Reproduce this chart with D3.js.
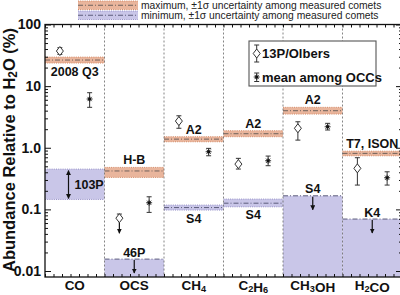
<!DOCTYPE html>
<html>
<head>
<meta charset="utf-8">
<script src="https://cdn.jsdelivr.net/npm/d3@7"></script>
<style>
body { margin: 0; background: #fff; }
svg { display: block; font-family: "Liberation Sans", Arial, sans-serif; }
</style>
</head>
<body>
<svg width="400" height="295"></svg>
<script>
// molecules, one column each
var species = ["CO", "OCS", "CH4", "C2H6", "CH3OH", "H2CO"];

// maximum abundance among measured comets (+-1 sigma)
var maxMid   = [26.5, 0.42, 1.38, 1.69, 3.99, 0.81];
var maxLow   = [23.7, 0.33, 1.25, 1.51, 3.52, 0.74];
var maxHigh  = [29.6, 0.48, 1.51, 1.89, 4.53, 0.88];
var maxLabel = ["2008 Q3", "H-B", "A2", "A2", "A2", "T7, ISON"];
var maxSide  = ["below", "above", "above", "above", "above", "above"];

// minimum abundance among measured comets
var minMid   = [null, 0.0156, 0.107, 0.126, 0.166, 0.0697];
var minLow   = [0.145, null, 0.0975, 0.110, null, null];
var minHigh  = [0.45, 0.0156, 0.1175, 0.147, 0.166, 0.0697];
var minKind  = ["range", "limit", "band", "band", "limit", "limit"];
var minLabel = ["103P", "46P", "S4", "S4", "S4", "K4"];

// 13P/Olbers
var olb      = [37.1, 0.072, 2.71, 0.543, 2.07, 0.463];
var olbLo    = [32.8, null, 2.07, 0.451, 1.33, 0.248];
var olbHi    = [42.0, 0.084, 3.30, 0.673, 2.64, 0.689];
var olbLimit = [false, true, false, false, false, false];

// mean among Oort cloud comets
var occ   = [6.18, 0.128, 0.861, 0.615, 2.19, 0.326];
var occLo = [4.53, 0.0893, 0.741, 0.511, 1.94, 0.248];
var occHi = [7.82, 0.160, 0.977, 0.733, 2.49, 0.407];

var yTicks = [0.01, 0.1, 1, 10, 100];
var yTickLabels = ["0.01", "0.1", "1.0", "10", "100"];

var svg = d3.select("svg");
var padL = 45, padR = 402, padT = 24.5, padB = 277;

var orangeFill = "#e9b59c", orangeEdge = "#d48a66", orangeMid = "#6f625c";
var purpleFill = "#c9c6e8", purpleEdge = "#948fc6", purpleMid = "#5d5d7c";

var x = d3.scaleBand().domain(species).range([padL, padR]);
var y = d3.scaleLog().domain([0.01, 100]).range([271, padT]);
var bw = x.bandwidth();

var defs = svg.append("defs");
defs.append("clipPath").attr("id", "plot")
  .append("rect").attr("x", padL).attr("y", padT)
  .attr("width", padR - padL).attr("height", padB - padT);

defs.append("marker")
  .attr("id", "head").attr("viewBox", "0 0 10 10")
  .attr("refX", 9).attr("refY", 5)
  .attr("markerWidth", 5).attr("markerHeight", 5)
  .attr("markerUnits", "userSpaceOnUse")
  .attr("orient", "auto-start-reverse")
  .append("path").attr("d", "M0,0L10,5L0,10z").attr("fill", "#111");

var g = svg.append("g").attr("clip-path", "url(#plot)");

function hline(sel, yy, x0, x1, color, dash, w) {
  sel.append("line").attr("x1", x0).attr("x2", x1).attr("y1", yy).attr("y2", yy)
    .attr("stroke", color).attr("stroke-width", w || 1)
    .attr("stroke-dasharray", dash);
}

function subText(sel, str) {
  // digits become subscripts
  str.split(/(\d+)/).forEach(function(part) {
    if (!part) return;
    if (/^\d+$/.test(part)) {
      sel.append("tspan").attr("font-size", "0.68em").attr("dy", 1.5).text(part);
      sel.append("tspan").attr("dy", -1.5).text("");
    } else {
      sel.append("tspan").text(part);
    }
  });
}

// minimum bands
species.forEach(function(s, i) {
  var x0 = x(s), x1 = x(s) + bw;
  var yTop = y(minHigh[i]);
  var yBot = minLow[i] == null ? padB : y(minLow[i]);
  g.append("rect").attr("x", x0).attr("y", yTop).attr("width", bw)
    .attr("height", yBot - yTop).attr("fill", purpleFill);
  if (minKind[i] == "limit") {
    hline(g, yTop, x0, x1, purpleMid, "5,2,1,2", 1);
  } else {
    hline(g, yTop, x0, x1, purpleEdge, "1,1.2", 1);
    hline(g, yBot, x0, x1, purpleEdge, "1,1.2", 1);
    if (minKind[i] == "band") hline(g, y(minMid[i]), x0, x1, purpleMid, "5,2,1,2", 1);
  }
});

// maximum bands
species.forEach(function(s, i) {
  var x0 = x(s), x1 = x(s) + bw;
  var yTop = y(maxHigh[i]), yBot = y(maxLow[i]);
  g.append("rect").attr("x", x0).attr("y", yTop).attr("width", bw)
    .attr("height", yBot - yTop).attr("fill", orangeFill);
  hline(g, yTop, x0, x1, orangeEdge, "1,1.2", 1);
  hline(g, yBot, x0, x1, orangeEdge, "1,1.2", 1);
  hline(g, y(maxMid[i]), x0, x1, orangeMid, "5,2,1,2", 1);
});

// column dividers
svg.append("g").selectAll("line")
  .data(species.slice(1))
  .enter().append("line")
    .attr("x1", function(d) { return x(d); })
    .attr("x2", function(d) { return x(d); })
    .attr("y1", padT).attr("y2", padB)
    .attr("stroke", "#666").attr("stroke-width", 0.8)
    .attr("stroke-dasharray", "2,2");

// labels + arrows for bands
var lab = svg.append("g").attr("font-weight", "bold").attr("font-size", 12.5)
  .attr("fill", "#111").attr("text-anchor", "middle");

species.forEach(function(s, i) {
  var cx = x(s) + bw / 2;
  if (maxSide[i] == "above")
    lab.append("text").attr("x", cx).attr("y", y(maxHigh[i]) - 3).text(maxLabel[i]);
  else
    lab.append("text").attr("x", cx).attr("y", y(maxLow[i]) + 13).text(maxLabel[i]);

  if (minKind[i] == "limit") {
    lab.append("text").attr("x", cx).attr("y", y(minHigh[i]) - 2.5).text(minLabel[i]);
    svg.append("line").attr("x1", cx).attr("x2", cx)
      .attr("y1", y(minHigh[i]) + 1).attr("y2", y(minHigh[i]) + 14)
      .attr("stroke", "#111").attr("stroke-width", 1.2)
      .attr("marker-end", "url(#head)");
  } else if (minKind[i] == "band") {
    lab.append("text").attr("x", cx).attr("y", y(minLow[i]) + 12.5).text(minLabel[i]);
  } else {
    var ax = x(s) + 23.5;
    svg.append("line").attr("x1", ax).attr("x2", ax)
      .attr("y1", y(minHigh[i]) + 1.5).attr("y2", y(minLow[i]) - 1)
      .attr("stroke", "#111").attr("stroke-width", 1.2)
      .attr("marker-start", "url(#head)").attr("marker-end", "url(#head)");
    lab.append("text").attr("x", ax + 6).attr("text-anchor", "start")
      .attr("y", (y(minHigh[i]) + y(minLow[i])) / 2 + 4.5).text(minLabel[i]);
  }
});

// markers
function errBar(sel, cx, y0, y1) {
  sel.append("line").attr("x1", cx).attr("x2", cx).attr("y1", y0).attr("y2", y1)
    .attr("stroke", "#333").attr("stroke-width", 1);
  [y0, y1].forEach(function(yy) {
    sel.append("line").attr("x1", cx - 2.5).attr("x2", cx + 2.5)
      .attr("y1", yy).attr("y2", yy).attr("stroke", "#333").attr("stroke-width", 1);
  });
}
function diamond(sel, cx, cy) {
  sel.append("path")
    .attr("d", "M" + cx + "," + (cy - 4.5) + "L" + (cx + 3.5) + "," + cy +
      "L" + cx + "," + (cy + 4.5) + "L" + (cx - 3.5) + "," + cy + "Z")
    .attr("fill", "#fff").attr("stroke", "#333").attr("stroke-width", 1);
}
function star(sel, cx, cy) {
  [0, 45, 90, 135].forEach(function(a) {
    var r = a * Math.PI / 180, dx = 3 * Math.cos(r), dy = 3 * Math.sin(r);
    sel.append("line").attr("x1", cx - dx).attr("x2", cx + dx)
      .attr("y1", cy - dy).attr("y2", cy + dy)
      .attr("stroke", "#333").attr("stroke-width", 1);
  });
  sel.append("circle").attr("cx", cx).attr("cy", cy).attr("r", 1.6).attr("fill", "#111");
}

var mk = svg.append("g");
species.forEach(function(s, i) {
  var cx = x(s) + bw * 0.25;
  if (olbLimit[i]) {
    errBar(mk, cx, y(olbHi[i]), y(olb[i]));
    mk.append("line").attr("x1", cx).attr("x2", cx)
      .attr("y1", y(olb[i])).attr("y2", y(olb[i]) + 15)
      .attr("stroke", "#111").attr("stroke-width", 1.2)
      .attr("marker-end", "url(#head)");
  } else {
    errBar(mk, cx, y(olbHi[i]), y(olbLo[i]));
  }
  diamond(mk, cx, y(olb[i]));

  var ox = x(s) + bw * 0.75;
  errBar(mk, ox, y(occHi[i]), y(occLo[i]));
  star(mk, ox, y(occ[i]));
});

// axes
var minor = y.ticks().filter(function(t) { return yTicks.indexOf(t) < 0; });

function plain(a) {
  a.select(".domain").remove();
  a.selectAll("line").attr("stroke", "#111");
}

svg.append("g").attr("transform", "translate(" + padL + ",0)")
  .call(d3.axisLeft(y).tickValues(yTicks).tickSizeInner(-6).tickSizeOuter(0)
    .tickPadding(4).tickFormat(function(d, i) { return yTickLabels[i]; }))
  .call(plain)
  .call(function(a) {
    a.selectAll("text").attr("font-size", 14).attr("font-weight", "bold")
      .attr("fill", "#111").attr("font-family", "Liberation Sans, Arial, sans-serif");
  });
svg.append("g").attr("transform", "translate(" + padL + ",0)")
  .call(d3.axisLeft(y).tickValues(minor).tickSizeInner(-3).tickSizeOuter(0).tickFormat(""))
  .call(plain);

svg.append("g").attr("transform", "translate(" + padR + ",0)")
  .call(d3.axisLeft(y).tickValues(yTicks).tickSizeInner(6).tickSizeOuter(0).tickFormat(""))
  .call(plain);
svg.append("g").attr("transform", "translate(" + padR + ",0)")
  .call(d3.axisLeft(y).tickValues(minor).tickSizeInner(3).tickSizeOuter(0).tickFormat(""))
  .call(plain);

var xt = d3.scaleLinear().domain([0, 42]).range([padL, padR]);
svg.append("g").attr("transform", "translate(0," + padB + ")")
  .call(d3.axisBottom(xt).tickValues(d3.range(43)).tickSizeInner(-3).tickSizeOuter(0).tickFormat(""))
  .call(plain);
svg.append("g").attr("transform", "translate(0," + padT + ")")
  .call(d3.axisTop(xt).tickValues(d3.range(43)).tickSizeInner(-3).tickSizeOuter(0).tickFormat(""))
  .call(plain);

svg.append("rect").attr("x", padL).attr("y", padT)
  .attr("width", padR - padL).attr("height", padB - padT)
  .attr("fill", "none").attr("stroke", "#111").attr("stroke-width", 1.3);

// x labels
species.forEach(function(s) {
  var t = svg.append("text").attr("x", x(s) + bw / 2).attr("y", 290)
    .attr("text-anchor", "middle").attr("font-weight", "bold").attr("font-size", 13.5)
    .attr("fill", "#111");
  subText(t, s);
});

// y title
var yt = svg.append("text").attr("transform", "translate(15,150) rotate(-90)")
  .attr("text-anchor", "middle").attr("font-weight", "bold").attr("font-size", 16.5)
  .attr("fill", "#111");
yt.append("tspan").text("Abundance Relative to H");
yt.append("tspan").attr("font-size", "0.72em").attr("dy", 2).text("2");
yt.append("tspan").attr("dy", -2).text("O (%)");

// legend box
var lg = svg.append("g");
lg.append("rect").attr("x", 249).attr("y", 41).attr("width", 127).attr("height", 45)
  .attr("fill", "#fff").attr("stroke", "#555").attr("stroke-width", 1.1);
errBar(lg, 256.7, 45, 62);
diamond(lg, 256.7, 53.5);
errBar(lg, 256.7, 73, 81.5);
star(lg, 256.7, 77);
lg.append("text").attr("x", 262).attr("y", 58).attr("font-weight", "bold")
  .attr("font-size", 13).attr("fill", "#111").text("13P/Olbers");
lg.append("text").attr("x", 262).attr("y", 81.5).attr("font-weight", "bold")
  .attr("font-size", 13).attr("fill", "#111").text("mean among OCCs");

// top legend for bands
var tl = svg.append("g");
[["maximum, \u00b11\u03c3 uncertainty among measured comets", orangeFill, orangeEdge, orangeMid, 1],
 ["minimum, \u00b11\u03c3 uncertainty among measured comets", purpleFill, purpleEdge, purpleMid, 11]]
.forEach(function(r) {
  tl.append("rect").attr("x", 78).attr("y", r[4]).attr("width", 60).attr("height", 8.5)
    .attr("fill", r[1]);
  hline(tl, r[4], 78, 138, r[2], "1,1.2", 1);
  hline(tl, r[4] + 8.5, 78, 138, r[2], "1,1.2", 1);
  hline(tl, r[4] + 4.25, 78, 138, r[3], "5,2,1,2", 1);
  tl.append("text").attr("x", 141).attr("y", r[4] + 8).attr("font-size", 10.3)
    .attr("fill", "#222").text(r[0]);
});
</script>
</body>
</html>
